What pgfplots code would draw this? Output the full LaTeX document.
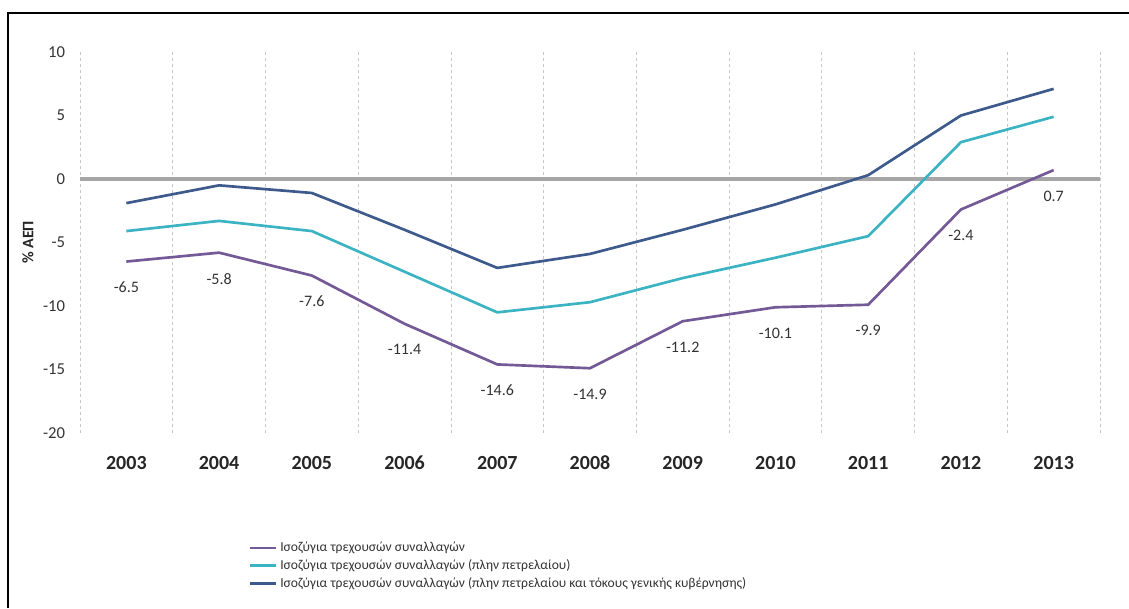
\documentclass[border=0pt]{standalone}
\usepackage{pgfplots}
\pgfplotsset{compat=1.18}
\usepackage{fontspec}
\setmainfont{Carlito}

\definecolor{cabpurple}{HTML}{735A96}
\definecolor{cabteal}{HTML}{3BB3C3}
\definecolor{cabblue}{HTML}{3E5A8C}
\definecolor{zerogray}{HTML}{A6A6A6}

% Current account balance, % of GDP
\pgfplotstableread{
year total exoil exoilint
2003 -6.5  -4.1  -1.9
2004 -5.8  -3.3  -0.5
2005 -7.6  -4.1  -1.1
2006 -11.4 -7.3  -4.0
2007 -14.6 -10.5 -7.0
2008 -14.9 -9.7  -5.9
2009 -11.2 -7.8  -4.0
2010 -10.1 -6.2  -2.0
2011 -9.9  -4.5  0.3
2012 -2.4  2.9   5.0
2013 0.7   4.9   7.1
}\cabdata

\begin{document}
\begin{tikzpicture}[x=0.75pt,y=0.75pt]
\useasboundingbox (0,0) rectangle (1129,608);
\draw[line width=1.5pt] (8,0) -- (8,595) -- (1129,595);
\begin{axis}[
  at={(60pt,131.25pt)}, anchor=south west,
  width=765pt, height=285.75pt, scale only axis,
  xmin=2002.5, xmax=2013.5, ymin=-20, ymax=10,
  xtick={2003,2004,2005,2006,2007,2008,2009,2010,2011,2012,2013},
  xticklabels={2003,2004,2005,2006,2007,2008,2009,2010,2011,2012,2013},
  ytick={-20,-15,-10,-5,0,5,10},
  yticklabels={-20,-15,-10,-5,0,5,10},
  minor xtick={2002.5,2003.5,2004.5,2005.5,2006.5,2007.5,2008.5,2009.5,2010.5,2011.5,2012.5,2013.5},
  xminorgrids,
  minor grid style={dash pattern=on 2.5pt off 2pt, black!22, line width=0.6pt},
  axis line style={draw=none},
  major tick length=0pt, minor tick length=0pt,
  xticklabel style={font=\fontsize{15}{18}\selectfont\bfseries, text=black!85, anchor=base, inner sep=0pt, yshift=-27pt},
  yticklabel style={font=\fontsize{12.5}{15}\selectfont, text=black!80, anchor=east, inner sep=0pt, xshift=-11pt},
  ylabel={\% ΑΕΠ},
  every axis y label/.style={at={(axis description cs:-0.051,0.5)}, rotate=90, anchor=center, font=\fontsize{12}{14}\selectfont\bfseries, text=black!85},
  legend style={at={(rel axis cs:0.1647,-0.279)}, anchor=north west, draw=none, fill=none, inner sep=0pt,
    font=\fontsize{10.2}{12}\selectfont, text=black!80, row sep=0.4pt,
    cells={anchor=west}},
  legend image code/.code={\draw[#1, line width=2pt] (0pt,0pt) -- (20pt,0pt);},
  clip=false,
]
\addplot[zerogray, line width=2.3pt, forget plot] coordinates {(2002.5,0) (2013.5,0)};
\addplot[cabpurple, line width=2pt,
  nodes near coords={\pgfmathprintnumber[fixed,precision=1,fixed zerofill,assume math mode=true]{\pgfplotspointmeta}},
  every node near coord/.append style={anchor=center, yshift=-19.5pt, font=\fontsize{12}{14}\selectfont, text=black!80}]
  table[x=year, y=total] {\cabdata};
\addlegendentry{Ισοζύγια τρεχουσών συναλλαγών}
\addplot[cabteal, line width=2pt] table[x=year, y=exoil] {\cabdata};
\addlegendentry{Ισοζύγια τρεχουσών συναλλαγών (πλην πετρελαίου)}
\addplot[cabblue, line width=2pt] table[x=year, y=exoilint] {\cabdata};
\addlegendentry{Ισοζύγια τρεχουσών συναλλαγών (πλην πετρελαίου και τόκους γενικής κυβέρνησης)}
\end{axis}
\end{tikzpicture}
\end{document}
